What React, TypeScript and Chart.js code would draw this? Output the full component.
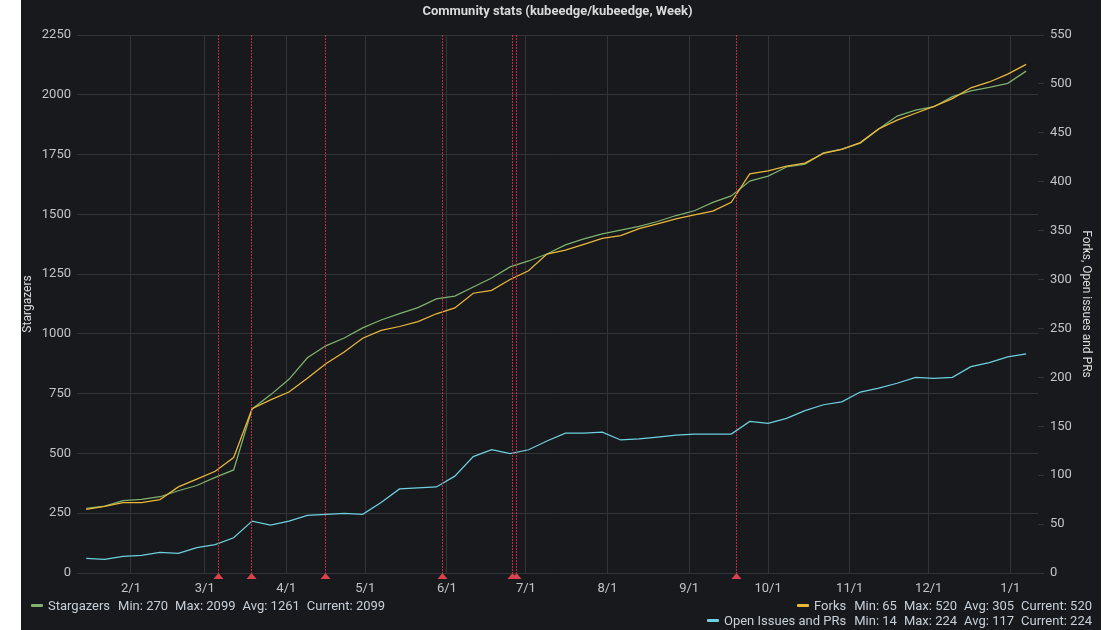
import React, { useEffect, useRef } from "react";
import { Chart, registerables } from "chart.js";

Chart.register(...registerables);

// ---- Data ----
const weekDates = [
  "2019-01-15", "2019-01-22", "2019-01-29", "2019-02-05", "2019-02-12", "2019-02-19", "2019-02-26",
  "2019-03-05", "2019-03-12", "2019-03-19", "2019-03-26", "2019-04-02", "2019-04-09", "2019-04-16",
  "2019-04-23", "2019-04-30", "2019-05-07", "2019-05-14", "2019-05-21", "2019-05-28", "2019-06-04",
  "2019-06-11", "2019-06-18", "2019-06-25", "2019-07-02", "2019-07-09", "2019-07-16", "2019-07-23",
  "2019-07-30", "2019-08-06", "2019-08-13", "2019-08-20", "2019-08-27", "2019-09-03", "2019-09-10",
  "2019-09-17", "2019-09-24", "2019-10-01", "2019-10-08", "2019-10-15", "2019-10-22", "2019-10-29",
  "2019-11-05", "2019-11-12", "2019-11-19", "2019-11-26", "2019-12-03", "2019-12-10", "2019-12-17",
  "2019-12-24", "2019-12-31", "2020-01-07",
];

const stargazers = [
  270, 280, 303, 308, 319, 344, 366, 400, 431, 686,
  745, 810, 900, 950, 983, 1025, 1058, 1085, 1110, 1146,
  1158, 1196, 1234, 1280, 1305, 1334, 1372, 1397, 1418, 1434,
  1450, 1470, 1495, 1515, 1550, 1577, 1639, 1660, 1698, 1710,
  1757, 1773, 1798, 1857, 1911, 1936, 1950, 1992, 2016, 2031, 2048, 2099,
];

const forks = [
  65, 68, 72, 72, 75, 88, 96, 104, 118, 168,
  177, 185, 199, 214, 226, 240, 248, 252, 257, 265,
  271, 286, 289, 300, 309, 326, 330, 336, 342, 345,
  352, 357, 362, 366, 370, 379, 408, 411, 416, 419,
  429, 433, 440, 454, 463, 470, 477, 485, 496, 502, 510, 520,
];

const openIssues = [
  15, 14, 17, 18, 21, 20, 26, 29, 36, 53,
  49, 53, 59, 60, 61, 60, 72, 86, 87, 88,
  99, 119, 126, 122, 126, 135, 143, 143, 144, 136,
  137, 139, 141, 142, 142, 142, 155, 153, 158, 166,
  172, 175, 185, 189, 194, 200, 199, 200, 211, 215, 221, 224,
];

const monthTickDates = [
  "2019-02-01", "2019-03-01", "2019-04-01", "2019-05-01", "2019-06-01", "2019-07-01",
  "2019-08-01", "2019-09-01", "2019-10-01", "2019-11-01", "2019-12-01", "2020-01-01",
];
const monthTickLabels = ["2/1", "3/1", "4/1", "5/1", "6/1", "7/1", "8/1", "9/1", "10/1", "11/1", "12/1", "1/1"];

const annotationTimes = [
  "2019-03-06T05:00:00Z", "2019-03-18T10:00:00Z", "2019-04-15T17:00:00Z", "2019-05-30T07:00:00Z",
  "2019-06-25T14:00:00Z", "2019-06-27T07:00:00Z", "2019-09-18T22:00:00Z",
];

const rangeStart = "2019-01-11T12:00:00Z";
const rangeEnd = "2020-01-11T12:00:00Z";

const leftAxis = { min: 0, max: 2250, step: 250 };
const rightAxis = { min: 0, max: 550, step: 50 };

const TITLE = "Community stats (kubeedge/kubeedge, Week)";

// ---- Styles ----
const BG = "#18191c";
const GRID = "#333437";
const TICK = "#c2c3c6";
const TEXT = "#d8d9da";
const GREEN = "#7eb26d";
const YELLOW = "#eab839";
const BLUE = "#6ed0e0";
const RED = "rgba(224, 47, 68, 0.85)";
const FONT = "Roboto";

const ORIGIN = Date.UTC(2019, 0, 1);
const toDay = (s: string) => (Date.parse(s.length === 10 ? s + "T00:00:00Z" : s) - ORIGIN) / 86400000;

const series = [
  { name: "Stargazers", color: GREEN, values: stargazers },
  { name: "Forks", color: YELLOW, values: forks },
  { name: "Open Issues and PRs", color: BLUE, values: openIssues },
];

const stats = (v: number[]) => ({
  min: Math.min(...v),
  max: Math.max(...v),
  avg: Math.round(v.reduce((a, b) => a + b, 0) / v.length),
  cur: v[v.length - 1],
});

const annotationPlugin = {
  id: "annotations",
  afterDatasetsDraw(chart: any) {
    const { ctx, chartArea, scales } = chart;
    const xs = scales.x;
    ctx.save();
    annotationTimes.forEach((t) => {
      const x = Math.round(xs.getPixelForValue(toDay(t))) + 0.5;
      ctx.strokeStyle = RED;
      ctx.lineWidth = 1;
      ctx.setLineDash([2, 1]);
      ctx.beginPath();
      ctx.moveTo(x, chartArea.top);
      ctx.lineTo(x, chartArea.bottom);
      ctx.stroke();
      ctx.setLineDash([]);
      ctx.fillStyle = "#d9434f";
      ctx.beginPath();
      ctx.moveTo(x, chartArea.bottom);
      ctx.lineTo(x - 5, chartArea.bottom + 6);
      ctx.lineTo(x + 5, chartArea.bottom + 6);
      ctx.closePath();
      ctx.fill();
    });
    ctx.restore();
  },
};

function LegendItem({ s }: { s: (typeof series)[number] }) {
  const st = stats(s.values);
  const gap = { marginLeft: 7 };
  return (
    <span style={{ whiteSpace: "nowrap" }}>
      <span
        style={{
          display: "inline-block",
          width: 12,
          height: 3,
          borderRadius: 1,
          background: s.color,
          verticalAlign: "middle",
          marginRight: 5,
          position: "relative",
          top: -1,
        }}
      />
      <span>{s.name}</span>
      <span style={{ marginLeft: 8 }}>Min: {st.min}</span>
      <span style={gap}>Max: {st.max}</span>
      <span style={gap}>Avg: {st.avg}</span>
      <span style={gap}>Current: {st.cur}</span>
    </span>
  );
}

export default function App() {
  const canvasRef = useRef<HTMLCanvasElement | null>(null);

  useEffect(() => {
    const canvas = canvasRef.current;
    if (!canvas) return;
    const xs = weekDates.map(toDay);
    const mk = (vals: number[]) => vals.map((v, i) => ({ x: xs[i], y: v }));
    const tickDays = monthTickDates.map(toDay);
    const plain = (v: any) => String(v);

    const line = (label: string, vals: number[], color: string, axis: string) => ({
      label,
      data: mk(vals),
      borderColor: color,
      backgroundColor: color,
      borderWidth: 1.25,
      pointRadius: 0,
      yAxisID: axis,
      tension: 0,
    });

    const chart = new Chart(canvas, {
      type: "line",
      data: {
        datasets: [
          line("Forks", forks, YELLOW, "y1"),
          line("Stargazers", stargazers, GREEN, "y"),
          line("Open Issues and PRs", openIssues, BLUE, "y1"),
        ],
      },
      options: {
        responsive: false,
        animation: false,
        events: [],
        layout: { padding: { left: 0, right: 8, top: 0, bottom: 0 } },
        plugins: {
          legend: { display: false },
          tooltip: { enabled: false },
          title: {
            display: true,
            fullSize: false,
            text: TITLE,
            color: TEXT,
            font: { family: FONT, size: 13, weight: "bold" },
            padding: { top: 4, bottom: 15.4 },
          },
        },
        scales: {
          x: {
            type: "linear",
            min: toDay(rangeStart),
            max: toDay(rangeEnd),
            afterBuildTicks: (scale: any) => {
              scale.ticks = tickDays.map((v) => ({ value: v }));
            },
            afterFit: (scale: any) => {
              scale.height = 57;
            },
            ticks: {
              autoSkip: false,
              maxRotation: 0,
              padding: 8,
              color: TICK,
              font: { family: FONT, size: 13 },
              callback: (_v: any, i: number) => monthTickLabels[i],
            },
            grid: { color: GRID, drawTicks: false },
            border: { display: false },
          },
          y: {
            position: "left",
            min: leftAxis.min,
            max: leftAxis.max,
            afterFit: (scale: any) => {
              scale.width = 56;
            },
            ticks: {
              stepSize: leftAxis.step,
              padding: 6,
              color: TICK,
              font: { family: FONT, size: 13 },
              callback: plain,
            },
            grid: { color: GRID, drawTicks: false },
            border: { display: false },
            title: {
              display: true,
              text: "Stargazers",
              color: TEXT,
              font: { family: FONT, size: 12 },
              padding: 0,
            },
          },
          y1: {
            position: "right",
            min: rightAxis.min,
            max: rightAxis.max,
            afterFit: (scale: any) => {
              scale.width = 55;
            },
            ticks: {
              stepSize: rightAxis.step,
              padding: 6,
              color: TICK,
              font: { family: FONT, size: 13 },
              callback: plain,
            },
            grid: { color: GRID, drawOnChartArea: false, drawTicks: true, tickLength: 6 },
            border: { display: false },
            title: {
              display: true,
              text: "Forks, Open issues and PRs",
              color: TEXT,
              font: { family: FONT, size: 12 },
              padding: 0,
            },
          },
        },
      } as any,
      plugins: [annotationPlugin],
    });
    return () => chart.destroy();
  }, []);

  const legendText: React.CSSProperties = {
    position: "absolute",
    fontFamily: FONT,
    fontSize: 13,
    lineHeight: "16px",
    color: "#c7d0d9",
  };

  return (
    <div
      style={{
        position: "fixed",
        left: 21,
        top: 0,
        width: 1080,
        height: 630,
        background: BG,
        overflow: "hidden",
      }}
    >
      <canvas ref={canvasRef} width={1080} height={630} style={{ position: "absolute", left: 0, top: 0 }} />
      <div style={{ ...legendText, left: 10, top: 598 }}>
        <LegendItem s={series[0]} />
      </div>
      <div style={{ ...legendText, right: 9, top: 598, textAlign: "right" }}>
        <LegendItem s={series[1]} />
      </div>
      <div style={{ ...legendText, right: 9, top: 613, textAlign: "right" }}>
        <LegendItem s={series[2]} />
      </div>
    </div>
  );
}
